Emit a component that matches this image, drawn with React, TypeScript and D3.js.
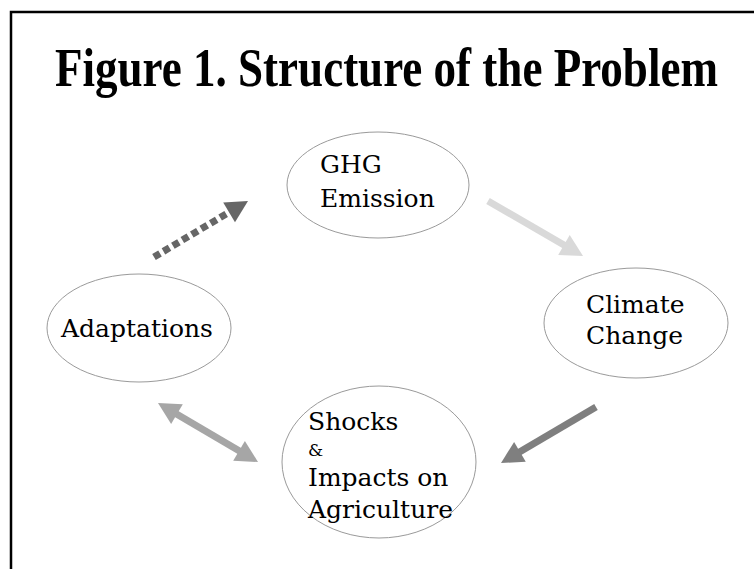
import React, { useEffect, useRef } from 'react';
import * as d3 from 'd3';

// node labels (each entry is lines of text)
const nodeIds = ['ghg', 'climate', 'shocks', 'adapt'];
const nodeLines: string[][] = [
  ['GHG', 'Emission'],
  ['Climate', 'Change'],
  ['Shocks', '&', 'Impacts on', 'Agriculture'],
  ['Adaptations'],
];
const titleText = 'Figure 1. Structure of the Problem';

// links between nodes
const linkFrom = ['adapt', 'ghg', 'climate', 'adapt'];
const linkTo = ['ghg', 'climate', 'shocks', 'shocks'];
const linkStyle = ['dotted', 'solid', 'solid', 'double'];
const linkColor = ['#666666', '#d9d9d9', '#7f7f7f', '#a6a6a6'];

// layout (pixel space)
const layout: Record<string, { cx: number; cy: number; rx: number; ry: number }> = {
  ghg: { cx: 378, cy: 185, rx: 91, ry: 53 },
  climate: { cx: 636, cy: 323, rx: 92, ry: 55 },
  shocks: { cx: 379, cy: 462, rx: 97, ry: 76 },
  adapt: { cx: 139, cy: 328, rx: 92, ry: 54 },
};
const arrowEnds: [number, number, number, number][] = [
  [154, 257, 248, 201],
  [488, 201, 583, 256],
  [596, 407, 501, 463],
  [158, 403, 258, 462],
];
const textPos: Record<string, { x: number; y: number[]; size: number[] }> = {
  ghg: { x: 320, y: [173, 207], size: [25, 25] },
  climate: { x: 586, y: [313, 344], size: [25, 25] },
  shocks: { x: 308, y: [430, 456, 486, 518], size: [25, 17, 25, 25] },
  adapt: { x: 61, y: [337], size: [25] },
};

export default function App() {
  const ref = useRef<SVGSVGElement | null>(null);

  useEffect(() => {
    const svg = d3.select(ref.current);
    svg.selectAll('*').remove();
    const width = 754, height = 569;
    svg.attr('width', width).attr('height', height).attr('viewBox', `0 0 ${width} ${height}`);

    svg.append('rect').attr('width', width).attr('height', height).attr('fill', '#fff');

    // frame: top and left edges
    svg.append('path')
      .attr('d', `M11,${height} L11,12 L${width},12`)
      .attr('fill', 'none').attr('stroke', '#000').attr('stroke-width', 2.5);

    // title, squeezed horizontally to fit like the condensed original
    const title = svg.append('text')
      .attr('x', 0).attr('y', 0)
      .attr('font-family', '"Liberation Serif", "Times New Roman", serif')
      .attr('font-weight', 'bold').attr('font-size', 54)
      .attr('fill', '#000')
      .text(titleText);
    const natural = (title.node() as SVGTextElement).getComputedTextLength() || 663;
    title.attr('transform', `translate(55,86) scale(${663 / natural},1)`);

    // ellipses
    nodeIds.forEach((id) => {
      const l = layout[id];
      svg.append('ellipse')
        .attr('cx', l.cx).attr('cy', l.cy).attr('rx', l.rx).attr('ry', l.ry)
        .attr('fill', '#fff').attr('stroke', '#9a9a9a').attr('stroke-width', 1);
    });

    // labels
    nodeIds.forEach((id, i) => {
      const t = textPos[id];
      nodeLines[i].forEach((line, j) => {
        svg.append('text')
          .attr('x', t.x).attr('y', t.y[j])
          .attr('font-family', '"DejaVu Serif", serif')
          .attr('font-size', t.size[j])
          .attr('fill', '#000')
          .text(line);
      });
    });

    // arrows
    const headLen = 22, headW = 23, shaft = 7;
    const head = (tx: number, ty: number, ux: number, uy: number) => {
      const bx = tx - ux * headLen, by = ty - uy * headLen;
      const px = -uy, py = ux;
      const p = d3.path();
      p.moveTo(tx, ty);
      p.lineTo(bx + px * headW / 2, by + py * headW / 2);
      p.lineTo(bx - px * headW / 2, by - py * headW / 2);
      p.closePath();
      return p.toString();
    };

    linkFrom.forEach((_, i) => {
      const [x1, y1, x2, y2] = arrowEnds[i];
      const len = Math.hypot(x2 - x1, y2 - y1);
      const ux = (x2 - x1) / len, uy = (y2 - y1) / len;
      const style = linkStyle[i];
      const color = linkColor[i];
      const sx = style === 'double' ? x1 + ux * (headLen - 2) : x1;
      const sy = style === 'double' ? y1 + uy * (headLen - 2) : y1;
      const ex = x2 - ux * (headLen - 2), ey = y2 - uy * (headLen - 2);
      const line = svg.append('line')
        .attr('x1', sx).attr('y1', sy).attr('x2', ex).attr('y2', ey)
        .attr('stroke', color).attr('stroke-width', shaft);
      if (style === 'dotted') line.attr('stroke-dasharray', '7 4');
      svg.append('path').attr('d', head(x2, y2, ux, uy)).attr('fill', color);
      if (style === 'double') {
        svg.append('path').attr('d', head(x1, y1, -ux, -uy)).attr('fill', color);
      }
    });
  }, []);

  return <svg ref={ref} style={{ position: 'absolute', left: 0, top: 0, display: 'block' }} />;
}
